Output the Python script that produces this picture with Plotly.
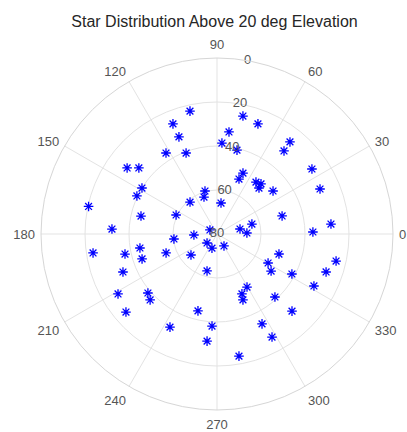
import plotly.graph_objects as go

# Star azimuths (deg) and elevations (deg)
azimuth = [102.4, 111.8, 111.4, 122.2, 110.9, 83.3, 86.9, 76.6, 77.6, 69.6,
           51.6, 51.1, 34.4, 23.6, 66.9, 68.2, 53.1, 47.6, 48.7, 37.5,
           105.6, 109.4, 82.6, 130.2, 155.1, 15.5, 5.0, 1.2, 15.9, 12.3,
           1.9, 150.3, 182.5, 186.6, 222.0, 250.3, 300.3, 218.9, 200.4, 143.7,
           139.8, 148.5, 154.6, 167.9, 166.7, 177.3, 188.7, 192.3, 190.3, 198.4,
           202.0, 211.2, 220.5, 224.6, 220.6, 256.1, 243.2, 254.9, 266.9, 264.7,
           342.1, 330.4, 325.6, 331.9, 340.8, 347.2, 331.8, 299.5, 292.6, 291.5,
           312.6, 314.2, 296.6, 298.1, 280.2]
elevation = [22.8, 26.1, 32.6, 36.5, 40.6, 33.3, 38.6, 40.8, 25.1, 26.6,
             26.6, 31.5, 27.7, 28.9, 49.9, 53.1, 50.5, 51.7, 49.7, 47.9,
             59.7, 62.2, 65.8, 61.0, 59.5, 49.3, 28.0, 36.4, 63.5, 69.3,
             66.4, 76.3, 69.5, 60.3, 73.9, 73.2, 73.7, 64.8, 55.3, 29.3,
             33.5, 40.0, 39.7, 20.3, 44.5, 32.2, 23.0, 37.2, 44.4, 44.1,
             33.9, 27.4, 38.7, 37.3, 25.5, 44.0, 32.6, 62.6, 38.1, 31.1,
             50.4, 53.3, 50.2, 41.4, 27.5, 24.5, 30.0, 52.3, 50.5, 47.8,
             41.1, 31.1, 34.3, 26.9, 23.6]

theta_ticks = list(range(0, 360, 30))
theta_labels = [str(t) for t in theta_ticks]
r_ticks = [0, 20, 40, 60, 80]
r_labels = [str(r) for r in r_ticks]
r_label_angle = 80

fig = go.Figure()
fig.add_trace(go.Scatterpolar(
    r=elevation, theta=azimuth, mode="markers",
    marker=dict(symbol="asterisk-open", size=8, color="#0000ff",
                line=dict(color="#0000ff", width=1.3)),
    showlegend=False, hoverinfo="skip"))
fig.add_trace(go.Scatterpolar(
    r=r_ticks, theta=[r_label_angle] * len(r_ticks), mode="text",
    text=r_labels, textposition="middle center",
    textfont=dict(family="Liberation Sans, Arial, sans-serif", size=13, color="#555555"),
    cliponaxis=False, showlegend=False, hoverinfo="skip"))

fig.update_layout(
    width=407, height=432,
    margin=dict(l=41, r=14, t=58, b=22),
    paper_bgcolor="white",
    font=dict(family="Liberation Sans, Arial, sans-serif", size=13, color="#555555"),
    title=dict(text="Star Distribution Above 20 deg Elevation",
               x=0.527, xanchor="center", y=0.951, yanchor="middle",
               font=dict(size=16, color="#262626")),
    polar=dict(
        bgcolor="white",
        domain=dict(x=[0, 1], y=[0, 1]),
        radialaxis=dict(range=[80, 0], tickvals=r_ticks, showticklabels=False,
                        ticks="", showline=False, gridcolor="#e3e3e3",
                        gridwidth=1, angle=r_label_angle),
        angularaxis=dict(rotation=0, direction="counterclockwise",
                         tickmode="array", tickvals=theta_ticks, ticktext=theta_labels,
                         ticks="outside", ticklen=3, tickcolor="rgba(0,0,0,0)",
                         showline=True, linecolor="#d6d6d6", linewidth=1,
                         gridcolor="#e3e3e3", gridwidth=1,
                         tickfont=dict(size=13, color="#555555")),
    ),
)

fig.write_html("out.html")
